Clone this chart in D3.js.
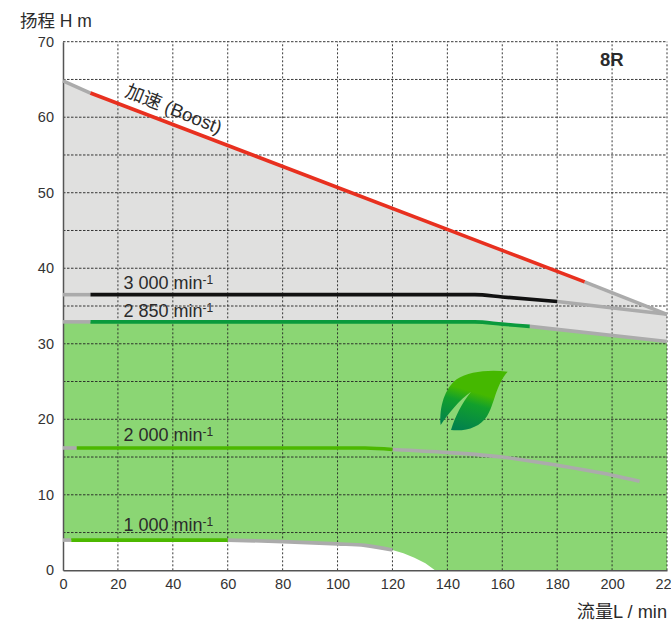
<!DOCTYPE html>
<html>
<head>
<meta charset="utf-8">
<script src="https://cdn.jsdelivr.net/npm/d3@7"></script>
<style>
  html, body { margin: 0; padding: 0; background: #fff; overflow: hidden; }
  svg { display: block; }
  text { font-family: "Liberation Sans", "Noto Sans CJK SC", sans-serif; fill: #2b2b2b; }
  .axis text { font-size: 14.5px; fill: #333; }
</style>
</head>
<body>
<div id="chart"></div>
<script>
// CURVES: [flow L/min, head m] ----------------------------------
const boostGreyStart = [[0, 64.8], [10, 63.2]];
const boostRed = [[10, 63.2], [190, 38.2]];
const boostGreyEnd = [[190, 38.2], [220, 33.9]];

const rpm3000GreyStart = [[0, 36.5], [10, 36.5]];
const rpm3000Black = [[10, 36.5], [150, 36.5], [160, 36.2], [180, 35.6]];
const rpm3000GreyEnd = [[180, 35.6], [220, 33.9]];

const rpm2850GreyStart = [[0, 32.9], [10, 32.9]];
const rpm2850Green = [[10, 32.9], [150, 32.9], [160, 32.6], [170, 32.3]];
const rpm2850GreyEnd = [[170, 32.3], [220, 30.3]];

const rpm2000GreyStart = [[0, 16.2], [5, 16.2]];
const rpm2000Green = [[5, 16.2], [110, 16.2], [120, 16]];
const rpm2000GreyEnd = [[120, 16], [140, 15.6], [160, 15], [180, 13.9], [200, 12.6], [210, 11.8]];

const rpm1000GreyStart = [[0, 4], [3, 4]];
const rpm1000Green = [[3, 4], [60, 4]];
const rpm1000GreyEnd = [[60, 4], [80, 3.8], [100, 3.5], [110, 3.3], [120, 2.7]];

// white corner under the 1000 curve
const lowerLimit = [[120, 2.7], [124, 2.25], [128, 1.65], [132, 0.95], [135.5, 0]];

const flowTicks = [0, 20, 40, 60, 80, 100, 120, 140, 160, 180, 200, 220];
const headTicks = [0, 10, 20, 30, 40, 50, 60, 70];
const flowGrid = [20, 40, 60, 80, 100, 120, 140, 160, 180, 200, 220];
const headGrid = [5, 10, 15, 20, 25, 30, 35, 40, 45, 50, 55, 60, 65, 70];

const speedLabels = [
  { text: "3 000 min", flow: 22, head: 37.25 },
  { text: "2 850 min", flow: 22, head: 33.55 },
  { text: "2 000 min", flow: 22, head: 17.15 },
  { text: "1 000 min", flow: 22, head: 5.2 },
];

const width = 671,
  height = 623;

const x = d3.scaleLinear().domain([0, 220]).range([63, 667]);
const y = d3.scaleLinear().domain([0, 70]).range([570.3, 41.7]);

const svg = d3
  .select("#chart")
  .append("svg")
  .attr("width", width)
  .attr("height", height);

const line = d3
  .line()
  .x((d) => x(d[0]))
  .y((d) => y(d[1]));

const smooth = d3
  .line()
  .x((d) => x(d[0]))
  .y((d) => y(d[1]))
  .curve(d3.curveMonotoneX);

// FILLS ---------------------------------------------------------
const rpm2850All = [...rpm2850GreyStart, ...rpm2850Green.slice(1), ...rpm2850GreyEnd.slice(1)];
const boostAll = [...boostGreyStart, ...boostRed.slice(1), ...boostGreyEnd.slice(1)];
const rpm1000All = [...rpm1000GreyStart, ...rpm1000Green.slice(1), ...rpm1000GreyEnd.slice(1), ...lowerLimit.slice(1)];

svg
  .append("path")
  .attr("d", line([...boostAll, ...rpm2850All.slice().reverse()]) + "Z")
  .attr("fill", "#e0e0df");

svg
  .append("path")
  .attr("d", line([...rpm2850All, [220, 0], ...rpm1000All.slice().reverse()]) + "Z")
  .attr("fill", "#8bd674");

// GRID ----------------------------------------------------------
svg
  .selectAll(".grid-h")
  .data(headGrid)
  .enter()
  .append("line")
  .attr("class", "grid-h")
  .attr("x1", x(0))
  .attr("x2", x(220))
  .attr("y1", (d) => y(d))
  .attr("y2", (d) => y(d))
  .attr("stroke", "#222")
  .attr("stroke-width", 0.9)
  .attr("stroke-dasharray", "2.5,1.5");

svg
  .selectAll(".grid-v")
  .data(flowGrid)
  .enter()
  .append("line")
  .attr("class", "grid-v")
  .attr("x1", (d) => x(d))
  .attr("x2", (d) => x(d))
  .attr("y1", y(0))
  .attr("y2", y(70))
  .attr("stroke", "#222")
  .attr("stroke-width", 0.9)
  .attr("stroke-dasharray", "2,2");

// AXES ----------------------------------------------------------
svg
  .append("g")
  .attr("class", "axis")
  .attr("transform", "translate(0," + y(0) + ")")
  .call(d3.axisBottom(x).tickValues(flowTicks).tickSize(0).tickPadding(8));

svg
  .append("g")
  .attr("class", "axis")
  .attr("transform", "translate(" + x(0) + ",0)")
  .call(d3.axisLeft(y).tickValues(headTicks).tickSize(0).tickPadding(9));

svg.selectAll(".axis").attr("font-family", null).attr("font-size", null);
svg
  .selectAll(".axis .domain")
  .attr("stroke", "#555")
  .attr("stroke-width", 1.5);

// CURVES --------------------------------------------------------
const grey = "#ababab";
const curves = [
  [boostGreyStart, grey],
  [boostGreyEnd, grey],
  [boostRed, "#e8301f"],
  [rpm3000GreyStart, grey],
  [rpm3000GreyEnd, grey],
  [rpm3000Black, "#111111"],
  [rpm2850GreyStart, grey],
  [rpm2850GreyEnd, grey],
  [rpm2850Green, "#0a9a3c"],
  [rpm2000GreyStart, grey],
  [rpm2000GreyEnd, grey],
  [rpm2000Green, "#4cb800"],
  [rpm1000GreyStart, grey],
  [rpm1000GreyEnd, grey],
  [rpm1000Green, "#4cb800"],
];

svg
  .selectAll(".curve")
  .data(curves)
  .enter()
  .append("path")
  .attr("class", "curve")
  .attr("d", (d) => smooth(d[0]))
  .attr("fill", "none")
  .attr("stroke", (d) => d[1])
  .attr("stroke-width", 3.6);

// LABELS --------------------------------------------------------
const labels = svg
  .selectAll(".speed-label")
  .data(speedLabels)
  .enter()
  .append("text")
  .attr("class", "speed-label")
  .attr("x", (d) => x(d.flow))
  .attr("y", (d) => y(d.head))
  .style("font-size", "18px")
  .text((d) => d.text);

labels
  .append("tspan")
  .attr("dy", -5)
  .style("font-size", "12px")
  .text("-1");

svg
  .append("text")
  .attr("transform", "translate(124,96) rotate(22)")
  .style("font-size", "18.6px")
  .text("加速 (Boost)");

svg
  .append("text")
  .attr("x", 20)
  .attr("y", 27)
  .style("font-size", "17.5px")
  .text("扬程 H m");

svg
  .append("text")
  .attr("x", 667)
  .attr("y", 618)
  .attr("text-anchor", "end")
  .style("font-size", "18.2px")
  .text("流量L / min");

svg
  .append("text")
  .attr("x", 600)
  .attr("y", 66)
  .style("font-size", "18.5px")
  .style("font-weight", "bold")
  .text("8R");

// LEAF ----------------------------------------------------------
const defs = svg.append("defs");
const leafGradient = defs
  .append("linearGradient")
  .attr("id", "leaf-gradient")
  .attr("gradientUnits", "userSpaceOnUse")
  .attr("x1", 150)
  .attr("y1", 40)
  .attr("x2", 100)
  .attr("y2", 215);
leafGradient.append("stop").attr("offset", "0.3").attr("stop-color", "#45b800");
leafGradient.append("stop").attr("offset", "0.5").attr("stop-color", "#12a02c");
leafGradient.append("stop").attr("offset", "1").attr("stop-color", "#007f50");

svg
  .append("path")
  .attr("transform", "translate(425,360) scale(0.3333)")
  .attr(
    "d",
    "M248,35 C190,28 130,35 95,58 C60,85 42,140 47,195 C70,160 105,118 138,95 C110,130 90,170 78,210 C125,215 165,200 185,170 C208,135 212,75 248,35 Z"
  )
  .attr("fill", "url(#leaf-gradient)");
</script>
</body>
</html>
